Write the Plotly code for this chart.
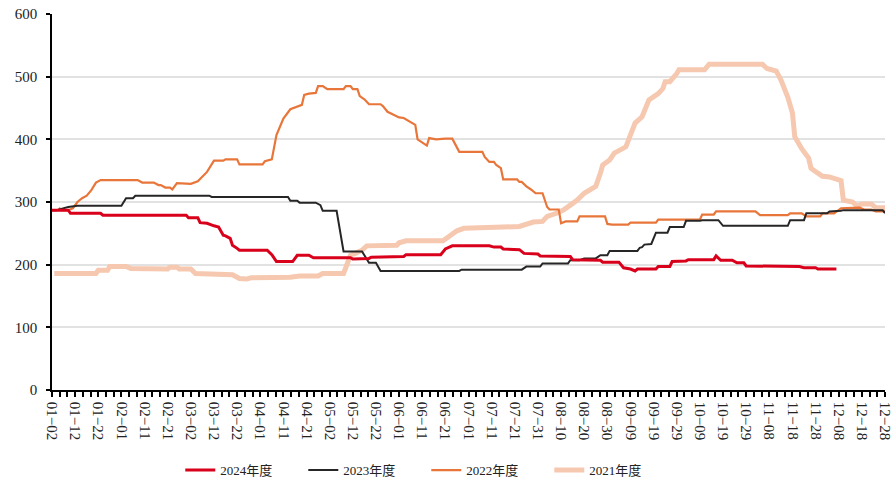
import pandas as pd
import plotly.graph_objects as go

# ---- categories (MM-DD, season calendar, 05-01 absent) ----
_days = pd.date_range("2024-01-02", "2024-12-28", freq="D")
CATEGORIES = [d.strftime("%m-%d") for d in _days if d.strftime("%m-%d") != "05-01"]
POS = {c: i for i, c in enumerate(CATEGORIES)}
LABEL_DATES = CATEGORIES[::10]
TICK_LABELS = [d.replace("-", "\u2212") for d in LABEL_DATES]

SERIES_NAMES = ["2024年度", "2023年度", "2022年度", "2021年度"]

# ---- 2024年度 ----
s2024_dates = ["01-02", "01-09", "01-10", "01-23", "01-24", "02-29", "03-01", "03-05", "03-06", "03-09",
               "03-12", "03-14", "03-16", "03-17", "03-19", "03-20", "03-22", "03-23", "04-04", "04-06",
               "04-08", "04-15", "04-17", "04-22", "04-24", "05-11", "05-12", "05-19", "05-20", "06-03",
               "06-04", "06-19", "06-21", "06-24", "07-10", "07-12", "07-15", "07-16", "07-23", "07-25",
               "07-31", "08-01", "08-14", "08-15", "08-27", "08-28", "09-04", "09-06", "09-09", "09-11",
               "09-12", "09-20", "09-21", "09-26", "09-27", "10-03", "10-04", "10-15", "10-16", "10-18",
               "10-23", "10-25", "10-28", "10-29", "11-21", "11-23", "11-28", "11-29", "12-07"]
s2024_values = [287, 287, 282, 282, 279, 279, 275, 275, 267, 266,
                262, 260, 247, 246, 242, 231, 226, 223, 223, 216,
                205, 205, 215, 215, 211, 211, 209, 210, 212, 213,
                216, 216, 225, 230, 230, 228, 228, 225, 224, 218,
                217, 214, 213, 208, 207, 204, 204, 195, 193, 190,
                193, 193, 197, 197, 205, 206, 208, 208, 214, 207,
                207, 203, 203, 198, 197, 195, 195, 193, 193]

# ---- 2023年度 ----
s2023_dates = ["01-02", "01-04", "01-06", "01-09", "01-13", "02-01", "02-03", "02-06", "02-07", "03-10",
               "03-11", "04-13", "04-14", "04-17", "04-18", "04-25", "04-27", "04-28", "05-05", "05-08",
               "05-16", "05-18", "05-19", "05-22", "05-24", "06-27", "06-28", "07-24", "07-26", "08-01",
               "08-02", "08-13", "08-14", "08-18", "08-20", "08-25", "08-27", "08-30", "08-31", "09-12",
               "09-13", "09-14", "09-15", "09-18", "09-20", "09-25", "09-26", "10-02", "10-03", "10-09",
               "10-10", "10-17", "10-19", "11-16", "11-17", "11-23", "11-24", "12-03", "12-04", "12-09",
               "12-10", "12-27", "12-28"]
s2023_values = [287, 287, 289, 292, 294, 294, 306, 306, 310, 310,
                308, 308, 302, 302, 299, 299, 295, 286, 286, 221,
                221, 210, 203, 203, 190, 190, 192, 192, 197, 197,
                202, 202, 207, 207, 210, 210, 215, 215, 222, 222,
                227, 228, 232, 233, 251, 251, 260, 260, 270, 270,
                271, 271, 262, 262, 271, 271, 282, 282, 285, 286,
                287, 287, 282]

# ---- 2022年度 ----
s2022_dates = ["01-05", "01-06", "01-09", "01-11", "01-13", "01-15", "01-17", "01-19", "01-21", "01-23",
               "02-08", "02-10", "02-15", "02-17", "02-18", "02-20", "02-22", "02-23", "02-25", "03-02",
               "03-05", "03-07", "03-09", "03-12", "03-16", "03-17", "03-22", "03-23", "04-02", "04-03",
               "04-06", "04-08", "04-11", "04-14", "04-17", "04-19", "04-20", "04-22", "04-25", "04-26",
               "04-28", "04-30", "05-08", "05-09", "05-11", "05-12", "05-14", "05-15", "05-17", "05-19",
               "05-24", "05-25", "05-27", "05-30", "06-01", "06-03", "06-06", "06-08", "06-09", "06-11",
               "06-13", "06-14", "06-17", "06-21", "06-24", "06-27", "07-07", "07-08", "07-10", "07-12",
               "07-13", "07-15", "07-16", "07-22", "07-23", "07-24", "07-26", "07-28", "07-30", "08-02",
               "08-04", "08-05", "08-09", "08-10", "08-12", "08-17", "08-18", "08-29", "08-30", "09-01",
               "09-08", "09-09", "09-20", "09-21", "10-09", "10-10", "10-15", "10-16", "11-02", "11-04",
               "11-16", "11-17", "11-22", "11-24", "11-30", "12-01", "12-06", "12-09", "12-17", "12-19",
               "12-22", "12-24", "12-28"]
s2022_values = [291, 287, 287, 290, 300, 306, 310, 319, 331, 335,
                335, 331, 331, 327, 327, 323, 323, 320, 330, 329,
                333, 340, 348, 366, 366, 368, 368, 360, 360, 365,
                368, 407, 433, 448, 452, 455, 471, 473, 474, 485,
                485, 480, 480, 485, 485, 480, 480, 469, 464, 456,
                456, 453, 444, 439, 435, 434, 428, 423, 400, 395,
                390, 402, 400, 401, 401, 380, 380, 372, 364, 364,
                359, 354, 336, 336, 332, 332, 325, 320, 314, 314,
                292, 288, 288, 266, 269, 269, 277, 277, 265, 264,
                264, 267, 267, 272, 272, 280, 280, 285, 285, 279,
                279, 282, 282, 277, 277, 282, 282, 290, 291, 288,
                288, 285, 285]

# ---- 2021年度 ----
s2021_dates = ["01-03", "01-21", "01-22", "01-26", "01-27", "02-03", "02-05", "02-11", "02-13", "02-21",
               "02-22", "02-25", "02-26", "03-02", "03-04", "03-10", "03-12", "03-20", "03-22", "03-23",
               "03-26", "03-28", "04-14", "04-18", "04-26", "04-28", "05-08", "05-09", "05-11", "05-13",
               "05-16", "05-18", "05-24", "05-25", "05-31", "06-01", "06-04", "06-20", "06-23", "06-26",
               "06-29", "07-15", "07-16", "07-23", "07-26", "07-29", "08-02", "08-04", "08-08", "08-11",
               "08-14", "08-17", "08-20", "08-23", "08-25", "08-27", "08-28", "08-31", "09-02", "09-07",
               "09-11", "09-14", "09-17", "09-21", "09-23", "09-24", "09-26", "09-29", "09-30", "10-11",
               "10-13", "11-05", "11-07", "11-11", "11-13", "11-16", "11-18", "11-19", "11-22", "11-25",
               "11-26", "11-29", "12-01", "12-04", "12-06", "12-09", "12-10", "12-14", "12-16", "12-18",
               "12-22", "12-24", "12-28"]
s2021_values = [186, 186, 191, 191, 197, 197, 194, 194, 193, 193,
                196, 196, 193, 193, 186, 186, 184, 184, 180, 178,
                177, 179, 180, 182, 182, 186, 186, 197, 215, 218,
                223, 230, 230, 231, 231, 235, 238, 238, 247, 254,
                258, 258, 260, 261, 265, 268, 269, 277, 282, 287,
                295, 303, 314, 320, 325, 346, 359, 367, 378, 388,
                426, 436, 463, 473, 481, 492, 492, 505, 511, 511,
                520, 520, 513, 509, 495, 467, 442, 404, 385, 370,
                354, 346, 341, 340, 337, 334, 303, 300, 293, 297,
                297, 291, 291]

COLORS = {"2024年度": "#D9001B", "2023年度": "#262626", "2022年度": "#E8763A", "2021年度": "#F5C8AF"}
WIDTHS = {"2024年度": 3, "2023年度": 2, "2022年度": 2.2, "2021年度": 5}

DATA = {
    "2024年度": (s2024_dates, s2024_values),
    "2023年度": (s2023_dates, s2023_values),
    "2022年度": (s2022_dates, s2022_values),
    "2021年度": (s2021_dates, s2021_values),
}

FONT = "Liberation Serif, 'Noto Sans CJK SC', serif"

fig = go.Figure()
# draw oldest first so newer seasons sit on top
for rank, name in reversed(list(enumerate(SERIES_NAMES))):
    dates, vals = DATA[name]
    n = min(len(dates), len(vals))
    fig.add_trace(go.Scatter(
        x=[POS[d] for d in dates[:n]], y=vals[:n], name=name, mode="lines",
        line=dict(color=COLORS[name], width=WIDTHS[name]),
        legendrank=rank + 1, hoverinfo="skip",
    ))

n_ticks = 3 * (len(LABEL_DATES) - 1) + 1
tickvals = [k * 10 / 3 for k in range(n_ticks)]
ticktext = [TICK_LABELS[k // 3] if k % 3 == 0 else "" for k in range(n_ticks)]

fig.update_layout(
    width=895, height=482,
    margin=dict(l=52, r=10, t=14, b=92, autoexpand=False),
    paper_bgcolor="white", plot_bgcolor="white",
    font=dict(family=FONT, color="#222222", size=13),
    showlegend=True,
    legend=dict(orientation="h", x=0.154, xanchor="left", y=-0.213, yanchor="middle",
                font=dict(family=FONT, size=13, color="#222222"),
                entrywidth=78, entrywidthmode="pixels", traceorder="normal"),
    xaxis=dict(range=[0, 360], tickmode="array", tickvals=tickvals, ticktext=ticktext,
               tickangle=90, ticks="outside", ticklen=5, tickwidth=1.5, tickcolor="black",
               showline=True, linecolor="black", linewidth=1.5, showgrid=False, zeroline=False,
               automargin=False, ticklabelstandoff=2,
               tickfont=dict(family=FONT, size=15, color="#222222")),
    yaxis=dict(range=[0, 600], tickmode="array", tickvals=[0, 100, 200, 300, 400, 500, 600],
               ticks="outside", ticklen=4, tickwidth=1.5, tickcolor="black",
               showline=True, linecolor="black", linewidth=1.5,
               showgrid=True, gridcolor="#e2e2e2", gridwidth=1.5, zeroline=False,
               ticklabelstandoff=6, automargin=False,
               tickfont=dict(family=FONT, size=15, color="#222222")),
)

fig.write_html("out.html", config={"displayModeBar": False},
               post_script="document.body.style.margin='0';document.body.style.padding='0';")
